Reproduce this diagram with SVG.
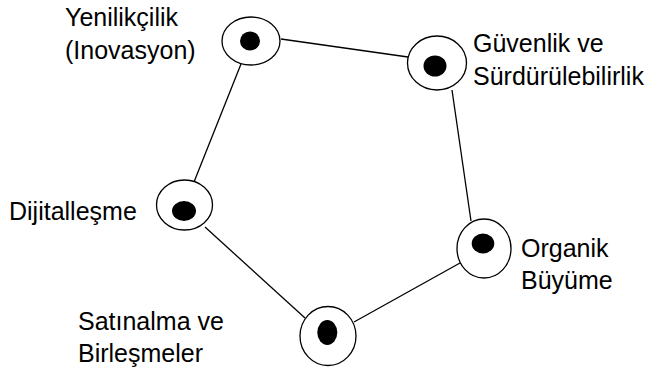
<svg xmlns="http://www.w3.org/2000/svg" width="655" height="374" viewBox="0 0 655 374">
<style>
.ring{fill:#fff;stroke:#000;stroke-width:1.3}
.dot{fill:#000}
.lbl{font-family:"Liberation Sans",Arial,Helvetica,sans-serif;font-size:25px;fill:#000}
.edge{stroke:#000;stroke-width:1.3;fill:none}
</style>
<rect width="655" height="374" fill="#fff"/>
<g id="connectors">
<line class="edge" x1="281" y1="39" x2="408" y2="57"/>
<line class="edge" x1="241" y1="64" x2="194" y2="182"/>
<line class="edge" x1="452" y1="90" x2="471" y2="221"/>
<line class="edge" x1="460" y1="263" x2="354" y2="322"/>
<line class="edge" x1="305" y1="318" x2="205" y2="227"/>
</g>
<g id="node-yenilikcilik">
<ellipse class="ring" cx="251" cy="41" rx="29" ry="24"/>
<ellipse class="dot" cx="250" cy="41" rx="10" ry="9.5"/>
<text class="lbl" x="65" y="26">Yenilikçilik</text>
<text class="lbl" x="65" y="58.5">(Inovasyon)</text>
</g>
<g id="node-guvenlik">
<ellipse class="ring" cx="437" cy="63" rx="29.5" ry="27"/>
<ellipse class="dot" cx="435" cy="66" rx="11.5" ry="10.5"/>
<text class="lbl" x="473" y="52">Güvenlik ve</text>
<text class="lbl" x="473" y="85">Sürdürülebilirlik</text>
</g>
<g id="node-dijitallesme">
<ellipse class="ring" cx="184.5" cy="205" rx="28" ry="25"/>
<ellipse class="dot" cx="184" cy="211" rx="12" ry="10"/>
<text class="lbl" x="9" y="220">Dijitalleşme</text>
</g>
<g id="node-organik">
<ellipse class="ring" cx="484" cy="248.5" rx="27" ry="29.5"/>
<ellipse class="dot" cx="483" cy="243.5" rx="11.3" ry="10"/>
<text class="lbl" x="521" y="256.5">Organik</text>
<text class="lbl" x="521" y="288.5">Büyüme</text>
</g>
<g id="node-satinalma">
<ellipse class="ring" cx="328" cy="336" rx="28" ry="29.5"/>
<ellipse class="dot" cx="327.3" cy="332.5" rx="10" ry="12.5"/>
<text class="lbl" x="78" y="330">Satınalma ve</text>
<text class="lbl" x="78" y="361.5">Birleşmeler</text>
</g>
</svg>
